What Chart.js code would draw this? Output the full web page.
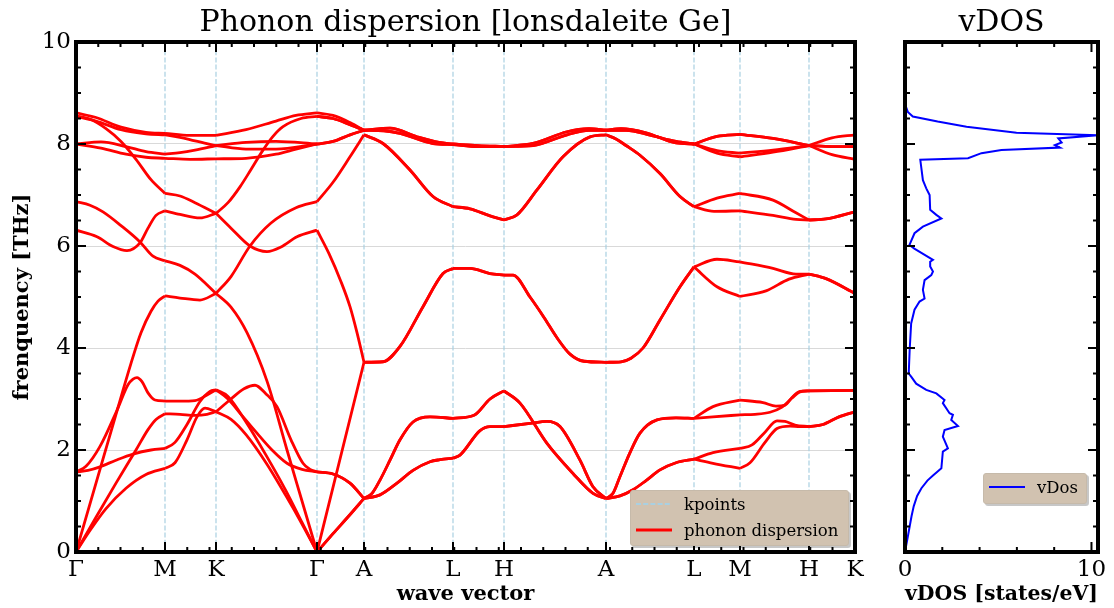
<!DOCTYPE html>
<html>
<head>
<meta charset="utf-8">
<script src="https://cdn.jsdelivr.net/npm/chart.js@4"></script>
<style>
  body { margin: 0; background: #fff; }
  #page { position: relative; width: 1114px; height: 608px; overflow: hidden; }
  .plot { position: absolute; top: 0; }
  .legend {
    position: absolute; box-sizing: border-box;
    background: rgb(209, 194, 176);
    border: 1px solid rgb(198, 186, 170);
    border-radius: 3px;
    box-shadow: 2px 2px 0 rgba(0, 0, 0, 0.22);
    font: 16.5px 'DejaVu Serif', serif; color: #000;
  }
  .legend .row { position: absolute; left: 0; height: 20px; display: flex; align-items: center; white-space: nowrap; }
  .legend svg { margin-left: 5px; margin-right: 12px; }
</style>
</head>
<body>
<div id="page">
  <div class="plot" style="left:0"><canvas id="bands" width="880" height="608"></canvas></div>
  <div class="plot" style="left:880px"><canvas id="dos" width="234" height="608"></canvas></div>
  <div class="legend" id="legBands" style="left:630px; top:490px; width:219px; height:56px"></div>
  <div class="legend" id="legDos" style="left:983px; top:473px; width:104px; height:31px"></div>
</div>
<script>
const serif = "'DejaVu Serif', serif";

// high symmetry points along the path
const kLabels = ['Γ', 'M', 'K', 'Γ', 'A', 'L', 'H', 'A', 'L', 'M', 'H', 'K'];
const kDist = [0, 0.89, 1.40, 2.41, 2.88, 3.77, 4.28, 5.30, 6.18, 6.64, 7.33, 7.79];

// bands per segment, each curve = [distance from segment start, THz]
const bandsGammaM = [
  [[0, 0], [0.2, 1.35], [0.4, 2.7], [0.55, 3.7], [0.65, 4.3], [0.75, 4.72], [0.82, 4.92], [0.89, 5.02]],
  [[0, 1.57], [0.1, 1.68], [0.24, 2.07], [0.41, 2.78], [0.52, 3.28], [0.57, 3.39], [0.61, 3.42], [0.66, 3.34], [0.72, 3.12], [0.79, 2.98], [0.89, 2.96]],
  [[0, 1.57], [0.12, 1.6], [0.24, 1.67], [0.4, 1.8], [0.57, 1.92], [0.75, 2.0], [0.89, 2.03]],
  [[0, 0], [0.2, 0.68], [0.4, 1.35], [0.6, 2.0], [0.72, 2.4], [0.8, 2.6], [0.89, 2.71]],
  [[0, 0], [0.15, 0.45], [0.3, 0.85], [0.5, 1.25], [0.7, 1.52], [0.89, 1.64]],
  [[0, 6.87], [0.14, 6.8], [0.27, 6.67], [0.45, 6.4], [0.64, 6.08], [0.77, 5.8], [0.89, 5.71]],
  [[0, 6.31], [0.21, 6.18], [0.37, 5.99], [0.51, 5.91], [0.64, 6.06], [0.72, 6.35], [0.8, 6.6], [0.89, 6.69]],
  [[0, 8.55], [0.15, 8.48], [0.3, 8.3], [0.45, 8.05], [0.6, 7.7], [0.75, 7.3], [0.89, 7.03]],
  [[0, 8.61], [0.2, 8.52], [0.45, 8.33], [0.7, 8.23], [0.89, 8.21]],
  [[0, 8.54], [0.2, 8.45], [0.45, 8.28], [0.7, 8.2], [0.89, 8.18]],
  [[0, 8.0], [0.25, 8.04], [0.5, 7.95], [0.7, 7.85], [0.89, 7.80]],
  [[0, 8.0], [0.25, 7.92], [0.5, 7.8], [0.7, 7.74], [0.89, 7.72]]
];
const bandsMK = [
  [[0, 5.02], [0.15, 4.98], [0.35, 4.94], [0.51, 5.07]],
  [[0, 5.71], [0.15, 5.62], [0.3, 5.45], [0.51, 5.07]],
  [[0, 6.69], [0.15, 6.62], [0.35, 6.55], [0.51, 6.64]],
  [[0, 7.03], [0.15, 6.98], [0.3, 6.85], [0.51, 6.64]],
  [[0, 8.21], [0.25, 8.17], [0.51, 8.17]],
  [[0, 8.18], [0.15, 8.13], [0.3, 8.06], [0.51, 7.97]],
  [[0, 7.80], [0.15, 7.83], [0.3, 7.88], [0.51, 7.97]],
  [[0, 7.72], [0.25, 7.70], [0.51, 7.71]],
  [[0, 1.64], [0.1, 1.75], [0.22, 2.2], [0.32, 2.65], [0.4, 2.82], [0.51, 2.75]],
  [[0, 2.03], [0.1, 2.15], [0.22, 2.5], [0.35, 2.95], [0.45, 3.15], [0.51, 3.18]],
  [[0, 2.71], [0.15, 2.70], [0.3, 2.68], [0.42, 2.70], [0.51, 2.75]],
  [[0, 2.96], [0.15, 2.96], [0.3, 2.97], [0.42, 3.08], [0.51, 3.18]]
];
const bandsKGamma = [
  [[0, 5.07], [0.15, 4.8], [0.31, 4.3], [0.51, 3.35], [0.71, 2.0], [0.86, 1.0], [1.01, 0]],
  [[0, 5.07], [0.15, 5.4], [0.34, 6.0], [0.55, 6.45], [0.8, 6.75], [1.01, 6.87]],
  [[0, 6.64], [0.15, 6.35], [0.34, 6.0], [0.51, 5.89], [0.65, 5.98], [0.81, 6.18], [1.01, 6.31]],
  [[0, 6.64], [0.12, 6.85], [0.24, 7.16], [0.35, 7.5], [0.47, 7.88], [0.57, 8.15], [0.67, 8.34], [0.85, 8.5], [1.01, 8.54]],
  [[0, 8.17], [0.3, 8.28], [0.6, 8.45], [0.8, 8.56], [1.01, 8.61]],
  [[0, 7.97], [0.3, 8.03], [0.6, 8.05], [1.01, 8.0]],
  [[0, 7.97], [0.3, 7.9], [0.6, 7.9], [1.01, 8.0]],
  [[0, 7.71], [0.3, 7.72], [0.6, 7.8], [0.8, 7.9], [1.01, 8.0]],
  [[0, 2.75], [0.15, 3.0], [0.28, 3.2], [0.39, 3.27], [0.5, 3.1], [0.61, 2.85], [0.75, 2.2], [0.87, 1.74], [0.94, 1.62], [1.01, 1.57]],
  [[0, 3.18], [0.12, 3.0], [0.25, 2.7], [0.41, 2.33], [0.56, 2.0], [0.71, 1.74], [0.86, 1.62], [1.01, 1.57]],
  [[0, 2.75], [0.15, 2.6], [0.3, 2.3], [0.5, 1.75], [0.7, 1.1], [0.86, 0.55], [1.01, 0]],
  [[0, 3.18], [0.12, 3.05], [0.3, 2.55], [0.5, 1.9], [0.7, 1.2], [0.86, 0.58], [1.01, 0]]
];
const bandsGammaA = [
  [[0, 0], [0.16, 0.36], [0.32, 0.71], [0.47, 1.05]],
  [[0, 0], [0.16, 0.36], [0.32, 0.71], [0.47, 1.05]],
  [[0, 1.57], [0.16, 1.53], [0.33, 1.35], [0.47, 1.05]],
  [[0, 1.57], [0.16, 1.53], [0.33, 1.35], [0.47, 1.05]],
  [[0, 0], [0.47, 3.72]],
  [[0, 6.31], [0.12, 5.85], [0.24, 5.3], [0.33, 4.81], [0.4, 4.3], [0.47, 3.72]],
  [[0, 6.87], [0.16, 7.25], [0.33, 7.75], [0.47, 8.18]],
  [[0, 8.0], [0.16, 8.05], [0.33, 8.18], [0.47, 8.27]],
  [[0, 8.0], [0.16, 8.05], [0.33, 8.18], [0.47, 8.27]],
  [[0, 8.61], [0.16, 8.56], [0.33, 8.42], [0.47, 8.27]],
  [[0, 8.54], [0.16, 8.5], [0.33, 8.38], [0.47, 8.27]],
  [[0, 8.54], [0.16, 8.5], [0.33, 8.38], [0.47, 8.27]]
];
const bandsAL = [
  [[0, 8.27], [0.26, 8.31], [0.53, 8.14], [0.75, 8.03], [0.89, 8.0]],
  [[0, 8.27], [0.26, 8.31], [0.53, 8.14], [0.75, 8.03], [0.89, 8.0]],
  [[0, 8.27], [0.2, 8.26], [0.36, 8.21], [0.69, 8.01], [0.89, 7.99]],
  [[0, 8.27], [0.2, 8.26], [0.36, 8.21], [0.69, 8.01], [0.89, 7.99]],
  [[0, 8.18], [0.19, 8.01], [0.46, 7.49], [0.69, 6.97], [0.89, 6.77]],
  [[0, 8.18], [0.19, 8.01], [0.46, 7.49], [0.69, 6.97], [0.89, 6.77]],
  [[0, 3.72], [0.19, 3.73], [0.36, 4.03], [0.59, 4.81], [0.79, 5.46], [0.89, 5.56]],
  [[0, 3.72], [0.19, 3.73], [0.36, 4.03], [0.59, 4.81], [0.79, 5.46], [0.89, 5.56]],
  [[0, 1.05], [0.08, 1.15], [0.16, 1.41], [0.26, 1.8], [0.36, 2.2], [0.49, 2.55], [0.66, 2.65], [0.89, 2.62]],
  [[0, 1.05], [0.08, 1.15], [0.16, 1.41], [0.26, 1.8], [0.36, 2.2], [0.49, 2.55], [0.66, 2.65], [0.89, 2.62]],
  [[0, 1.05], [0.16, 1.12], [0.33, 1.35], [0.49, 1.6], [0.66, 1.77], [0.76, 1.81], [0.89, 1.84]],
  [[0, 1.05], [0.16, 1.12], [0.33, 1.35], [0.49, 1.6], [0.66, 1.77], [0.76, 1.81], [0.89, 1.84]]
];
const bandsLH = [
  [[0, 8.0], [0.25, 7.97], [0.51, 7.95]],
  [[0, 8.0], [0.25, 7.97], [0.51, 7.95]],
  [[0, 7.99], [0.25, 7.95], [0.51, 7.95]],
  [[0, 7.99], [0.25, 7.95], [0.51, 7.95]],
  [[0, 6.77], [0.17, 6.73], [0.37, 6.59], [0.51, 6.51]],
  [[0, 6.77], [0.17, 6.73], [0.37, 6.59], [0.51, 6.51]],
  [[0, 5.56], [0.17, 5.56], [0.37, 5.46], [0.51, 5.43]],
  [[0, 5.56], [0.17, 5.56], [0.37, 5.46], [0.51, 5.43]],
  [[0, 2.62], [0.21, 2.68], [0.37, 3.0], [0.51, 3.16]],
  [[0, 2.62], [0.21, 2.68], [0.37, 3.0], [0.51, 3.16]],
  [[0, 1.84], [0.07, 1.9], [0.27, 2.38], [0.37, 2.46], [0.51, 2.46]],
  [[0, 1.84], [0.07, 1.9], [0.27, 2.38], [0.37, 2.46], [0.51, 2.46]]
];
const bandsHA = [
  [[0, 7.95], [0.29, 8.01], [0.63, 8.24], [0.85, 8.3], [1.02, 8.27]],
  [[0, 7.95], [0.29, 8.01], [0.63, 8.24], [0.85, 8.3], [1.02, 8.27]],
  [[0, 7.95], [0.29, 7.97], [0.63, 8.18], [0.85, 8.27], [1.02, 8.27]],
  [[0, 7.95], [0.29, 7.97], [0.63, 8.18], [0.85, 8.27], [1.02, 8.27]],
  [[0, 6.51], [0.13, 6.61], [0.33, 7.1], [0.59, 7.75], [0.86, 8.14], [1.02, 8.18]],
  [[0, 6.51], [0.13, 6.61], [0.33, 7.1], [0.59, 7.75], [0.86, 8.14], [1.02, 8.18]],
  [[0, 5.43], [0.09, 5.43], [0.26, 5.0], [0.4, 4.6], [0.53, 4.2], [0.66, 3.88], [0.8, 3.74], [1.02, 3.72]],
  [[0, 5.43], [0.09, 5.43], [0.26, 5.0], [0.4, 4.6], [0.53, 4.2], [0.66, 3.88], [0.8, 3.74], [1.02, 3.72]],
  [[0, 3.16], [0.16, 2.92], [0.43, 2.13], [0.69, 1.54], [0.89, 1.15], [1.02, 1.05]],
  [[0, 3.16], [0.16, 2.92], [0.43, 2.13], [0.69, 1.54], [0.89, 1.15], [1.02, 1.05]],
  [[0, 2.46], [0.26, 2.52], [0.43, 2.56], [0.56, 2.46], [0.76, 1.8], [0.89, 1.28], [1.02, 1.05]],
  [[0, 2.46], [0.26, 2.52], [0.43, 2.56], [0.56, 2.46], [0.76, 1.8], [0.89, 1.28], [1.02, 1.05]]
];
const bandsAL2 = [
  [[0, 8.27], [0.2, 8.27], [0.45, 8.17], [0.7, 8.05], [0.88, 8.0]],
  [[0, 8.27], [0.2, 8.27], [0.45, 8.17], [0.7, 8.05], [0.88, 8.0]],
  [[0, 8.27], [0.15, 8.3], [0.4, 8.22], [0.7, 8.02], [0.88, 8.0]],
  [[0, 8.27], [0.15, 8.3], [0.4, 8.22], [0.7, 8.02], [0.88, 8.0]],
  [[0, 8.18], [0.1, 8.1], [0.2, 7.97], [0.34, 7.78], [0.54, 7.42], [0.74, 6.97], [0.88, 6.77]],
  [[0, 8.18], [0.1, 8.1], [0.2, 7.97], [0.34, 7.78], [0.54, 7.42], [0.74, 6.97], [0.88, 6.77]],
  [[0, 3.72], [0.15, 3.73], [0.25, 3.8], [0.37, 4.0], [0.54, 4.55], [0.74, 5.2], [0.88, 5.59]],
  [[0, 3.72], [0.15, 3.73], [0.25, 3.8], [0.37, 4.0], [0.54, 4.55], [0.74, 5.2], [0.88, 5.59]],
  [[0, 1.05], [0.07, 1.15], [0.14, 1.48], [0.24, 1.95], [0.34, 2.33], [0.51, 2.59], [0.7, 2.63], [0.88, 2.62]],
  [[0, 1.05], [0.07, 1.15], [0.14, 1.48], [0.24, 1.95], [0.34, 2.33], [0.51, 2.59], [0.7, 2.63], [0.88, 2.62]],
  [[0, 1.05], [0.14, 1.1], [0.27, 1.22], [0.4, 1.4], [0.54, 1.61], [0.7, 1.75], [0.88, 1.82]],
  [[0, 1.05], [0.14, 1.1], [0.27, 1.22], [0.4, 1.4], [0.54, 1.61], [0.7, 1.75], [0.88, 1.82]]
];
const bandsLM = [
  [[0, 8.0], [0.23, 8.15], [0.46, 8.19]],
  [[0, 8.0], [0.23, 8.15], [0.46, 8.19]],
  [[0, 8.0], [0.23, 7.87], [0.46, 7.82]],
  [[0, 8.0], [0.23, 7.82], [0.46, 7.75]],
  [[0, 6.77], [0.23, 6.94], [0.46, 7.03]],
  [[0, 6.77], [0.2, 6.68], [0.46, 6.69]],
  [[0, 5.59], [0.23, 5.74], [0.46, 5.69]],
  [[0, 5.59], [0.23, 5.2], [0.46, 5.01]],
  [[0, 2.62], [0.19, 2.85], [0.46, 2.98]],
  [[0, 2.62], [0.19, 2.65], [0.46, 2.69]],
  [[0, 1.82], [0.19, 1.95], [0.46, 2.03]],
  [[0, 1.82], [0.19, 1.74], [0.46, 1.64]]
];
const bandsMH = [
  [[0, 8.19], [0.33, 8.11], [0.69, 7.97]],
  [[0, 8.19], [0.33, 8.11], [0.69, 7.97]],
  [[0, 7.82], [0.33, 7.88], [0.69, 7.97]],
  [[0, 7.75], [0.33, 7.84], [0.69, 7.97]],
  [[0, 7.03], [0.33, 6.9], [0.56, 6.65], [0.69, 6.51]],
  [[0, 6.69], [0.33, 6.6], [0.56, 6.52], [0.69, 6.51]],
  [[0, 5.69], [0.33, 5.56], [0.56, 5.45], [0.69, 5.45]],
  [[0, 5.01], [0.26, 5.12], [0.49, 5.35], [0.69, 5.45]],
  [[0, 2.98], [0.23, 2.93], [0.36, 2.86], [0.45, 2.88], [0.53, 3.05], [0.6, 3.15], [0.69, 3.16]],
  [[0, 2.69], [0.15, 2.7], [0.3, 2.74], [0.42, 2.84], [0.52, 3.02], [0.6, 3.14], [0.69, 3.16]],
  [[0, 2.03], [0.12, 2.1], [0.25, 2.35], [0.37, 2.57], [0.45, 2.56], [0.55, 2.49], [0.69, 2.46]],
  [[0, 1.64], [0.1, 1.75], [0.25, 2.15], [0.37, 2.42], [0.5, 2.47], [0.6, 2.46], [0.69, 2.46]]
];
const bandsHK = [
  [[0, 7.97], [0.23, 8.12], [0.46, 8.18]],
  [[0, 7.97], [0.23, 7.95], [0.46, 7.95]],
  [[0, 7.97], [0.23, 7.95], [0.46, 7.95]],
  [[0, 7.97], [0.23, 7.79], [0.46, 7.70]],
  [[0, 6.51], [0.17, 6.53], [0.46, 6.67]],
  [[0, 6.51], [0.17, 6.53], [0.46, 6.67]],
  [[0, 5.45], [0.17, 5.36], [0.46, 5.07]],
  [[0, 5.45], [0.17, 5.36], [0.46, 5.07]],
  [[0, 3.16], [0.46, 3.17]],
  [[0, 3.16], [0.46, 3.17]],
  [[0, 2.46], [0.14, 2.5], [0.3, 2.65], [0.46, 2.75]],
  [[0, 2.46], [0.14, 2.5], [0.3, 2.65], [0.46, 2.75]]
];

// phonon density of states
const dosFreq = [0, 0.1, 0.3, 0.5, 0.7, 0.9, 1.1, 1.25, 1.4, 1.5, 1.58, 1.64, 1.97, 2.03, 2.26, 2.39, 2.47,
  2.59, 2.69, 2.72, 2.92, 2.98, 3.11, 3.18, 3.3, 3.44, 3.5, 3.96, 4.48, 4.75, 4.91, 4.97, 5.14, 5.33,
  5.43, 5.5, 5.6, 5.69, 5.73, 5.86, 5.95, 6.02, 6.25, 6.38, 6.54, 6.61, 6.71, 7.0, 7.13, 7.29, 7.69,
  7.72, 7.82, 7.88, 7.93, 7.98, 8.03, 8.11, 8.17, 8.22, 8.34, 8.44, 8.54, 8.63, 8.73, 9.0, 9.52];
const dosValue = [0, 0.05, 0.15, 0.25, 0.35, 0.47, 0.65, 0.88, 1.2, 1.5, 1.75, 1.95, 2.03, 2.3, 2.03, 2.12, 2.84,
  2.48, 2.57, 2.39, 2.03, 2.12, 1.68, 1.14, 0.6, 0.33, 0.2, 0.25, 0.33, 0.51, 0.78, 1.05, 0.96, 1.05,
  1.41, 1.5, 1.35, 1.35, 1.5, 0.9, 0.5, 0.24, 0.51, 0.96, 1.95, 1.68, 1.35, 1.32, 1.14, 0.96, 0.82,
  3.38, 4.1, 5.17, 8.31, 8.04, 8.4, 8.22, 10.35, 5.98, 3.3, 1.75, 0.42, 0.15, 0.05, 0, 0];

// inward ticks on all four sides plus the heavy frame
const axesFrame = {
  id: 'axesFrame',
  afterDatasetsDraw(chart, args, o) {
    const { ctx, chartArea: a, scales: { x, y } } = chart;
    ctx.save();
    ctx.strokeStyle = '#000';
    ctx.lineWidth = 2;
    ctx.beginPath();
    const tickX = (v, len) => {
      const px = x.getPixelForValue(v);
      ctx.moveTo(px, a.bottom); ctx.lineTo(px, a.bottom - len);
      ctx.moveTo(px, a.top); ctx.lineTo(px, a.top + len);
    };
    const tickY = (v, len) => {
      const py = y.getPixelForValue(v);
      ctx.moveTo(a.left, py); ctx.lineTo(a.left + len, py);
      ctx.moveTo(a.right, py); ctx.lineTo(a.right - len, py);
    };
    o.xMajor.forEach(v => tickX(v, 10));
    for (let i = 1; i * o.xMinor < x.max; i++) {
      const v = i * o.xMinor;
      if (!o.xMajor.some(m => Math.abs(m - v) < 0.01)) tickX(v, 5);
    }
    for (let v = y.min; v <= y.max; v += 0.5) tickY(v, v % 2 === 0 ? 10 : 5);
    ctx.stroke();
    ctx.lineWidth = 4;
    ctx.strokeRect(a.left, a.top, a.right - a.left, a.bottom - a.top);
    ctx.restore();
  }
};

const bandSegments = [bandsGammaM, bandsMK, bandsKGamma, bandsGammaA, bandsAL, bandsLH,
  bandsHA, bandsAL2, bandsLM, bandsMH, bandsHK];
const bandSets = [];
bandSegments.forEach((seg, s) => {
  seg.forEach(curve => {
    bandSets.push({
      label: 'phonon dispersion',
      data: curve.map(([dk, f]) => ({ x: kDist[s] + dk, y: f })),
      borderColor: '#ff0000',
      borderWidth: 2.8,
      pointRadius: 0,
      cubicInterpolationMode: 'monotone'
    });
  });
});
const kpointLines = kDist.flatMap(k => [{ x: k, y: 0 }, { x: k, y: 10 }, { x: k, y: null }]);

const tickFont = { family: serif, size: 23 };
const axisTitleFont = { family: serif, size: 21, weight: 'bold' };
const titleFont = { family: serif, size: 30, weight: 'normal' };

const bandChart = new Chart(document.getElementById('bands'), {
  type: 'line',
  data: {
    datasets: [...bandSets, {
      label: 'kpoints',
      data: kpointLines,
      borderColor: '#a9d0e2',
      borderWidth: 1.2,
      borderDash: [5, 2.2],
      pointRadius: 0,
      tension: 0
    }]
  },
  options: {
    responsive: false,
    animation: false,
    events: [],
    layout: { padding: { right: 25 } },
    plugins: {
      legend: { display: false },
      tooltip: { enabled: false },
      title: {
        display: true, fullSize: false,
        text: 'Phonon dispersion [lonsdaleite Ge]',
        font: titleFont, color: '#000',
        padding: { top: 5, bottom: 1 }
      },
      axesFrame: { xMajor: kDist, xMinor: 0.2225 }
    },
    scales: {
      x: {
        type: 'linear', min: 0, max: 7.79,
        afterBuildTicks: s => { s.ticks = kDist.map(v => ({ value: v })); },
        afterFit: s => { s.height = 56; },
        ticks: {
          callback: (v, i) => kLabels[i],
          autoSkip: false, maxRotation: 0, font: tickFont, color: '#000', padding: 4
        },
        grid: { display: false, drawTicks: false },
        border: { display: false },
        title: { display: true, text: 'wave vector', font: axisTitleFont, color: '#000', padding: { top: 0, bottom: 1 } }
      },
      y: {
        min: 0, max: 10,
        afterFit: s => { s.width = 76; },
        ticks: { stepSize: 2, font: tickFont, color: '#000', padding: 5 },
        grid: { color: '#d9d9d9', lineWidth: 1, drawTicks: false },
        border: { display: false },
        title: { display: true, text: 'frenquency [THz]', font: axisTitleFont, color: '#000', padding: { top: 10, bottom: 0 } }
      }
    }
  },
  plugins: [axesFrame]
});

const dosChart = new Chart(document.getElementById('dos'), {
  type: 'line',
  data: {
    datasets: [{
      label: 'vDos',
      data: dosFreq.map((f, i) => ({ x: dosValue[i], y: f })),
      borderColor: '#0000ff',
      borderWidth: 2,
      pointRadius: 0,
      tension: 0
    }]
  },
  options: {
    responsive: false,
    animation: false,
    events: [],
    layout: { padding: { right: 16 } },
    plugins: {
      legend: { display: false },
      tooltip: { enabled: false },
      title: {
        display: true, fullSize: false,
        text: 'vDOS', font: titleFont, color: '#000',
        padding: { top: 5, bottom: 1 }
      },
      axesFrame: { xMajor: [0, 10], xMinor: 2 }
    },
    scales: {
      x: {
        type: 'linear', min: 0, max: 10.35,
        afterBuildTicks: s => { s.ticks = [{ value: 0 }, { value: 10 }]; },
        afterFit: s => { s.height = 56; },
        ticks: { font: tickFont, color: '#000', padding: 4, maxRotation: 0 },
        grid: { display: false, drawTicks: false },
        border: { display: false },
        title: { display: true, text: 'vDOS [states/eV]', font: axisTitleFont, color: '#000', padding: { top: 0, bottom: 1 } }
      },
      y: {
        min: 0, max: 10,
        afterFit: s => { s.width = 25; },
        ticks: { display: false, stepSize: 2 },
        grid: { display: false, drawTicks: false },
        border: { display: false }
      }
    }
  },
  plugins: [axesFrame]
});

// legends built from the dataset styles
function buildLegend(el, chart, names, rowCenters) {
  names.forEach((name, i) => {
    const ds = chart.data.datasets.find(d => d.label === name);
    const dash = ds.borderDash ? ds.borderDash.join(' ') : 'none';
    const width = Math.max(ds.borderWidth, 1.8);
    const row = document.createElement('div');
    row.className = 'row';
    row.style.top = (rowCenters[i] - 10) + 'px';
    row.innerHTML = '<svg width="36" height="8"><line x1="0" y1="4" x2="36" y2="4" stroke="' + ds.borderColor +
      '" stroke-width="' + width + '" stroke-dasharray="' + dash + '"/></svg><span>' + name + '</span>';
    el.appendChild(row);
  });
}
buildLegend(document.getElementById('legBands'), bandChart, ['kpoints', 'phonon dispersion'], [13, 39]);
buildLegend(document.getElementById('legDos'), dosChart, ['vDos'], [13]);
</script>
</body>
</html>
